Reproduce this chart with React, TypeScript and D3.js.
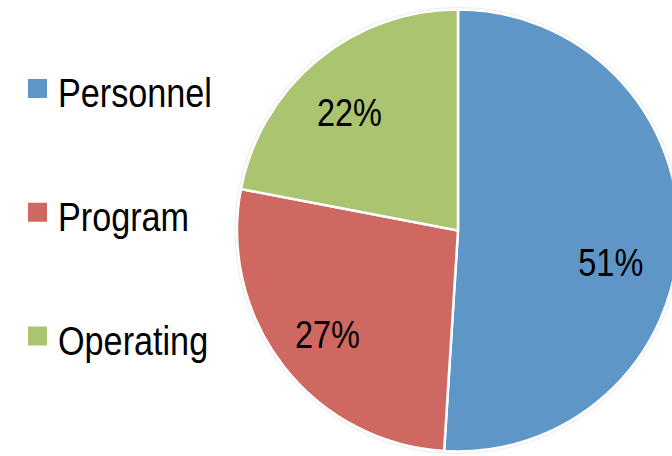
import React from "react";
import * as d3 from "d3";

const categories = ["Personnel", "Program", "Operating"];
const values = [51, 27, 22];
const colors = ["#5F96C8", "#CF6861", "#ABC46F"];

const W = 672;
const H = 456;
const cx = 458;
const cy = 230.5;
const R = 221;
// Excel best-fit label placement (radius fraction, angle shift in degrees)
const labelR = [0.706, 0.754, 0.727];
const labelAngleShift = [9.9, -0.6, -2.9];
const FONT = "'Liberation Sans', Arial, sans-serif";
const SX = 0.855;

export default function App() {
  const pie = d3.pie<number>().sort(null).value((d) => d)(values);
  const arc = d3.arc<d3.PieArcDatum<number>>().innerRadius(0).outerRadius(R);
  const total = d3.sum(values);
  const legendY = d3.scalePoint<string>().domain(categories).range([88.5, 336]);

  return (
    <svg
      width={W}
      height={H}
      viewBox={`0 0 ${W} ${H}`}
      style={{ position: "absolute", left: 0, top: 0, display: "block", background: "#fff" }}
    >
      <defs>
        <filter id="sh" x="-10%" y="-10%" width="120%" height="120%">
          <feGaussianBlur in="SourceAlpha" stdDeviation="1.2" />
          <feComponentTransfer>
            <feFuncA type="linear" slope="0.25" />
          </feComponentTransfer>
          <feMerge>
            <feMergeNode />
            <feMergeNode in="SourceGraphic" />
          </feMerge>
        </filter>
      </defs>
      <g transform={`translate(${cx},${cy})`}>
        <g filter="url(#sh)">
          {pie.map((p, i) => (
            <path key={i} d={arc(p) || ""} fill={colors[i]} stroke="#fff" strokeWidth={2.5} strokeLinejoin="round" />
          ))}
        </g>
        {pie.map((p, i) => {
          const a = (p.startAngle + p.endAngle) / 2 + (labelAngleShift[i] * Math.PI) / 180;
          const x = Math.sin(a) * R * labelR[i];
          const y = -Math.cos(a) * R * labelR[i];
          return (
            <text
              key={i}
              transform={`translate(${x},${y}) scale(${SX},1)`}
              dy="0.36em"
              textAnchor="middle"
              fontFamily={FONT}
              fontSize={38}
              fill="#000"
            >
              {`${Math.round((values[i] / total) * 100)}%`}
            </text>
          );
        })}
      </g>
      {categories.map((c, i) => {
        const y = legendY(c) as number;
        return (
          <g key={c}>
            <rect x={28} y={y - 9.5} width={19} height={19} fill={colors[i]} />
            <text
              transform={`translate(58,${y + 18.5}) scale(${SX},1)`}
              fontFamily={FONT}
              fontSize={40}
              fill="#000"
            >
              {c}
            </text>
          </g>
        );
      })}
    </svg>
  );
}
